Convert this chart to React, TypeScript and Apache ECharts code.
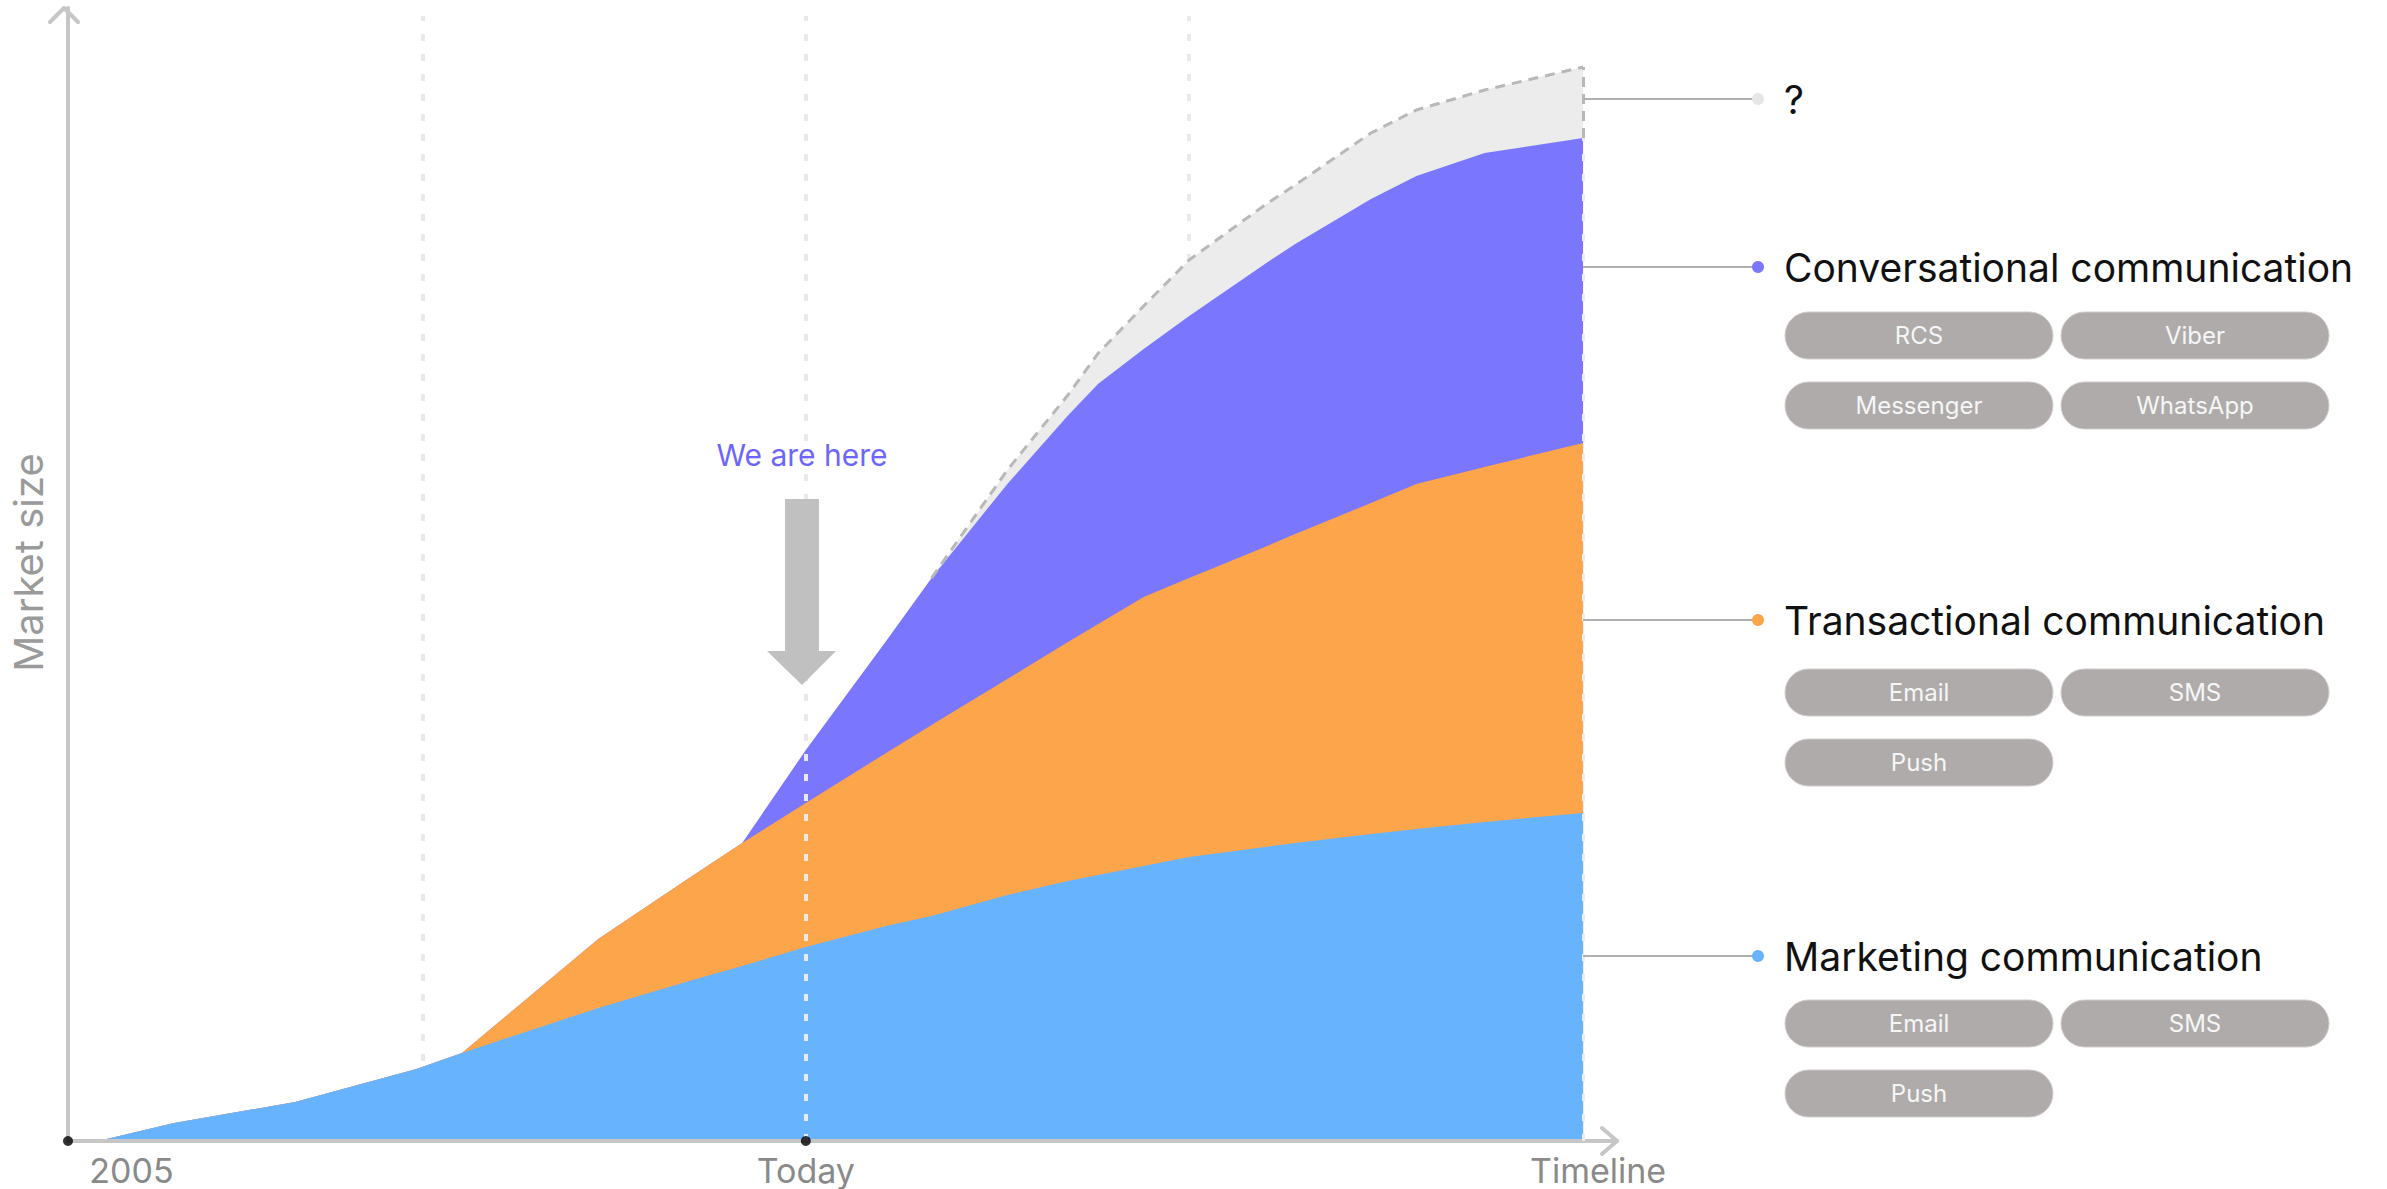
import React, { useEffect, useRef } from "react";
import * as echarts from "echarts";

// ---------- data ----------
const xPositions = [2, 7, 15, 23, 26, 35, 41, 44.5, 48.7, 54, 57, 62, 66, 68, 71, 74, 79, 81, 86, 89, 93.5, 100];
const marketing = [0, 1.59, 3.44, 6.35, 7.77, 11.74, 14.12, 15.45, 17.12, 18.98, 19.86, 21.71, 22.95, 23.48, 24.27, 25.07, 25.95, 26.3, 27.1, 27.54, 28.16, 28.95];
const transactional = [0, 0, 0, 0, 0, 6.09, 9.09, 10.85, 12.71, 15.27, 16.86, 19.07, 21.09, 22.15, 23.74, 24.62, 26.48, 27.27, 29.21, 30.45, 31.33, 32.66];
const conversational = [0, 0, 0, 0, 0, 0, 0, 0, 4.68, 9.88, 12.97, 17.21, 20.0, 21.2, 21.9, 23.13, 24.98, 25.6, 26.83, 27.18, 27.71, 26.92];
const unknown = [null, null, null, null, null, null, null, null, null, null, 0, 1.23, 1.8, 2.7, 3.79, 4.94, 5.2, 5.21, 5.83, 5.83, 5.56, 6.26];

const categories = ["Marketing communication", "Transactional communication", "Conversational communication", "?"];
const channels = [["Email", "SMS", "Push"], ["Email", "SMS", "Push"], ["RCS", "Viber", "Messenger", "WhatsApp"], []];

const xTickValues = [0, 48.7, 100];
const xTickLabels = ["2005", "Today", "Timeline"];
const guideLines = [23.4, 74];
const TODAY = 48.7;
const END = 100;
const GUIDE_TOP = 99.3;
const X_MAX = 102.24;
const Y_MAX = 100;

// ---------- style / layout ----------
const COLORS = ["#67b3fe", "#fda54a", "#7a77fe", "#ececec"];
const DOT_COLORS = ["#67b3fe", "#fda54a", "#7a77fe", "#e6e6e6"];
const FONT = "Inter";
const W = 2387;
const H = 1189;
const GL = 64;
const GT = 8;
const GR = 1617;
const GB = 1141;

// legend panel layout (pixels)
const LEADER_X0 = 1583;
const DOT_X = 1758;
const TITLE_X = 1784;
const PILL_X = [1785, 2061];
const PILL_W = 268;
const PILL_H = 47;
const ROW_PITCH = 70;
const GROUP_Y = [956, 620, 267, 99];
const PILL_TOP = [1000, 669, 312, 0];

export default function App() {
  const ref = useRef<HTMLDivElement>(null);

  useEffect(() => {
    if (!ref.current) return;
    const chart = echarts.init(ref.current, null, { renderer: "svg" });

    // cumulative layer tops (stack computed here, drawn back-to-front)
    const layers = [marketing, transactional, conversational, unknown];
    const cumulative: (number | null)[][] = [];
    let running = xPositions.map(() => 0);
    layers.forEach((vals) => {
      const top = xPositions.map((_, i) => (vals[i] == null ? null : running[i] + (vals[i] as number)));
      cumulative.push(top);
      running = xPositions.map((_, i) => (vals[i] == null ? running[i] : running[i] + (vals[i] as number)));
    });
    const last = xPositions.length - 1;
    const purpleTopEnd = cumulative[2][last] as number;
    const grayTopEnd = cumulative[3][last] as number;

    const areaSeries: any[] = [3, 2, 1, 0].map((si) => ({
      type: "line",
      name: categories[si],
      data: xPositions.map((x, i) => [x, cumulative[si][i] == null ? "-" : cumulative[si][i]]),
      showSymbol: false,
      symbol: "none",
      silent: true,
      smooth: false,
      z: 2,
      lineStyle:
        si === 3
          ? { color: "#b8b8b8", width: 3, type: [10, 7] }
          : { width: 0, opacity: 0 },
      areaStyle: { color: COLORS[si], opacity: 1 },
      ...(si === 3
        ? {
            markLine: {
              silent: true,
              z: 1,
              symbol: "none",
              label: { show: false },
              lineStyle: { color: "#e9e9e9", width: 4, type: [7, 13] },
              data: guideLines.map((g) => [{ coord: [g, 0] }, { coord: [g, GUIDE_TOP] }]),
            },
          }
        : {}),
    }));

    const dotSeries = {
      type: "scatter",
      data: [
        [0, 0],
        [TODAY, 0],
      ],
      symbolSize: 10,
      itemStyle: { color: "#000" },
      clip: false,
      silent: true,
      z: 10,
      markLine: {
        silent: true,
        z: 5,
        symbol: "none",
        label: { show: false },
        data: [
          [
            { coord: [TODAY, 0], lineStyle: { color: "#e9e9e9", width: 4, type: [7, 13] } },
            { coord: [TODAY, GUIDE_TOP] },
          ],
          [
            { coord: [END, 0], lineStyle: { color: "#ececec", width: 3, type: [7, 13] } },
            { coord: [END, purpleTopEnd] },
          ],
          [
            { coord: [END, purpleTopEnd], lineStyle: { color: "#b8b8b8", width: 3, type: [10, 7] } },
            { coord: [END, grayTopEnd] },
          ],
        ],
      },
    };

    const graphics: any[] = [];
    // axis arrow heads
    graphics.push({
      type: "polyline",
      z: 20,
      shape: { points: [[GL - 14, GT + 14], [GL, GT], [GL + 14, GT + 14]] },
      style: { stroke: "#c6c6c6", lineWidth: 4, fill: null, lineCap: "round", lineJoin: "round" },
    });
    graphics.push({
      type: "polyline",
      z: 20,
      shape: { points: [[GR - 15, GB - 13], [GR, GB], [GR - 15, GB + 13]] },
      style: { stroke: "#c6c6c6", lineWidth: 4, fill: null, lineCap: "round", lineJoin: "round" },
    });
    // "We are here" annotation
    graphics.push({
      type: "text",
      z: 100,
      style: {
        x: 802,
        y: 455,
        text: "We are here",
        fill: "#6d65fd",
        font: `30px ${FONT}`,
        textAlign: "center",
        textVerticalAlign: "middle",
      },
    });
    graphics.push({
      type: "polygon",
      z: 100,
      shape: {
        points: [
          [785, 499],
          [819, 499],
          [819, 651],
          [836, 651],
          [802, 685],
          [767, 651],
          [785, 651],
        ],
      },
      style: { fill: "#c0c0c0" },
    });

    // legend panel
    categories.forEach((cat, gi) => {
      const y = GROUP_Y[gi];
      graphics.push({
        type: "line",
        z: 20,
        shape: { x1: LEADER_X0, y1: y, x2: DOT_X, y2: y },
        style: { stroke: "#b0b0b0", lineWidth: 2 },
      });
      graphics.push({
        type: "circle",
        z: 21,
        shape: { cx: DOT_X, cy: y, r: 6 },
        style: { fill: DOT_COLORS[gi] },
      });
      graphics.push({
        type: "text",
        z: 21,
        style: {
          x: TITLE_X,
          y: y,
          text: cat,
          fill: "#111111",
          font: `39px ${FONT}`,
          textAlign: "left",
          textVerticalAlign: "middle",
        },
      });
      channels[gi].forEach((ch, ci) => {
        const col = ci % 2;
        const row = Math.floor(ci / 2);
        const px = PILL_X[col];
        const py = PILL_TOP[gi] + row * ROW_PITCH;
        graphics.push({
          type: "rect",
          z: 21,
          shape: { x: px, y: py, width: PILL_W, height: PILL_H, r: PILL_H / 2 },
          style: { fill: "#afabaa", stroke: "#cfcccb", lineWidth: 1 },
        });
        graphics.push({
          type: "text",
          z: 22,
          style: {
            x: px + PILL_W / 2,
            y: py + PILL_H / 2,
            text: ch,
            fill: "#f6f6f6",
            font: `24px ${FONT}`,
            textAlign: "center",
            textVerticalAlign: "middle",
          },
        });
      });
    });

    const labelStyle = { fontSize: 34, fontFamily: FONT, color: "#8a8a8a" };

    const option: any = {
      animation: false,
      backgroundColor: "#ffffff",
      grid: { left: GL, top: GT, right: W - GR, bottom: H - GB, containLabel: false },
      xAxis: {
        type: "value",
        min: 0,
        max: X_MAX,
        z: 3,
        axisLine: { show: true, lineStyle: { color: "#c6c6c6", width: 4 } },
        axisTick: { show: false },
        splitLine: { show: false },
        axisLabel: {
          show: true,
          customValues: xTickValues,
          margin: 12,
          ...labelStyle,
          formatter: (v: number) => {
            let best = 0;
            xTickValues.forEach((t, i) => {
              if (Math.abs(t - v) < Math.abs(xTickValues[best] - v)) best = i;
            });
            const style = best === 0 ? "first" : best === xTickValues.length - 1 ? "last" : "mid";
            return `{${style}|${xTickLabels[best]}}`;
          },
          rich: {
            first: { ...labelStyle, padding: [0, 0, 0, 127] },
            mid: { ...labelStyle },
            last: { ...labelStyle, padding: [0, 0, 0, 30] },
          },
        },
      },
      yAxis: {
        type: "value",
        min: 0,
        max: Y_MAX,
        name: "Market size",
        nameLocation: "middle",
        nameGap: 20,
        nameTextStyle: { fontSize: 40, fontFamily: FONT, color: "#9a9a9a", padding: [0, 0, 0, 24] },
        axisLine: { show: true, lineStyle: { color: "#c6c6c6", width: 4 } },
        axisTick: { show: false },
        axisLabel: { show: false },
        splitLine: { show: false },
      },
      series: [...areaSeries, dotSeries],
      graphic: { elements: graphics },
    };

    chart.setOption(option);
    return () => chart.dispose();
  }, []);

  return (
    <div
      ref={ref}
      style={{ position: "fixed", left: 0, top: 0, width: W, height: H, background: "#fff" }}
    />
  );
}
